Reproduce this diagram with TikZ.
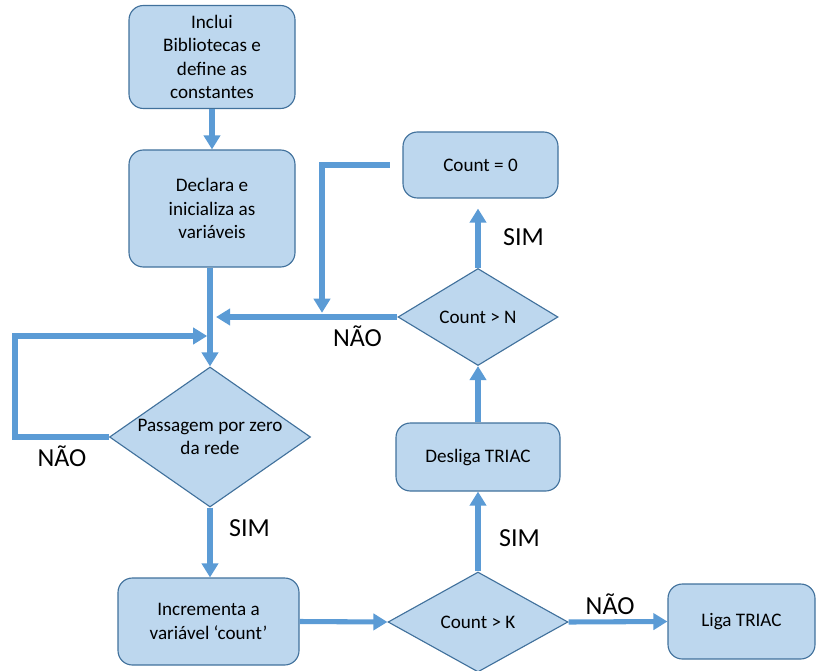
\documentclass[tikz,border=0pt]{standalone}
\usepackage{fontspec}
\setmainfont{Carlito}
\usepackage{xcolor}
\usetikzlibrary{arrows.meta,shapes.geometric}
\definecolor{boxfill}{HTML}{BDD7EE}
\definecolor{boxline}{HTML}{41719C}
\definecolor{flow}{HTML}{5B9BD5}

\begin{document}
\begin{tikzpicture}[>={Triangle[width=11.5pt,length=10pt]},
 block/.style={draw=boxline,fill=boxfill,line width=0.8pt,rounded corners=0.36cm,align=center,inner sep=0pt,font=\fontsize{13.6}{16.5}\selectfont},
 test/.style={diamond,draw=boxline,fill=boxfill,line width=0.8pt,align=center,inner sep=0pt,font=\fontsize{13.6}{16.5}\selectfont},
 flowline/.style={->,draw=flow,line width=3.6pt},
 answer/.style={font=\fontsize{18.5}{20}\selectfont}]
\useasboundingbox (0,0) rectangle (20.45,-16.75);
\node[block,minimum width=4.15cm,minimum height=2.575cm] (bLib) at (5.3,-1.425) {Inclui\\Bibliotecas e\\define as\\constantes};
\node[block,minimum width=4.15cm,minimum height=2.925cm] (bDecl) at (5.3,-5.2125) {Declara e\\inicializa as\\variáveis};
\node[test,minimum width=5.025cm,minimum height=3.5cm,aspect=1.43] (dZero) at (5.25,-10.925) {Passagem por zero\\da rede};
\node[block,minimum width=4.525cm,minimum height=2.175cm] (bInc) at (5.2125,-15.5375) {Incrementa a\\variável ‘count’};
\node[test,minimum width=4.5cm,minimum height=2.5cm] (dK) at (11.95,-15.55) {Count > K};
\node[block,minimum width=3.675cm,minimum height=1.875cm] (bLiga) at (18.5375,-15.5375) {Liga TRIAC};
\node[block,minimum width=4.1cm,minimum height=1.7cm] (bDesl) at (11.95,-11.425) {Desliga TRIAC};
\node[test,minimum width=4.0cm,minimum height=2.425cm] (dN) at (11.95,-7.925) {Count > N};
\node[block,minimum width=3.875cm,minimum height=1.65cm] (bZero) at (12.0125,-4.125) {Count = 0};
% junction points on the main line
\coordinate (jLoop) at (5.18,-8.4);
\coordinate (jBack) at (5.4,-7.925);
\coordinate (jReset) at (8.05,-7.82);
\draw[flowline] (bLib) -- (bDecl);
\draw[flowline] (bDecl.south -| dZero) -- (dZero.north);
\draw[flowline] (dZero.west) -- node[answer,below,pos=0.5,yshift=-0.05cm] {NÃO} (0.375,-10.925) |- (jLoop);
\draw[flowline] (dZero.south) -- node[answer,right,pos=0.3,xshift=0.3cm] {SIM} (bInc.north -| dZero);
\draw[flowline] (bInc.east) -- (dK.west);
\draw[flowline] (dK.east) -- node[answer,above,pos=0.42] {NÃO} (bLiga.west);
\draw[flowline] (dK.north) -- node[answer,right,pos=0.42,xshift=0.35cm] {SIM} (bDesl.south);
\draw[flowline] (bDesl.north) -- (dN.south);
\draw[flowline,shorten >=0.25cm] (dN.north) -- node[answer,right,pos=0.45,xshift=0.45cm] {SIM} (dN.north |- bZero.south);
\draw[flowline] (dN.west) -- node[answer,below,pos=0.22,yshift=-0.05cm] {NÃO} (jBack);
\draw[flowline,shorten <=0.32cm] (bZero.west) -| (jReset);
\end{tikzpicture}
\end{document}
